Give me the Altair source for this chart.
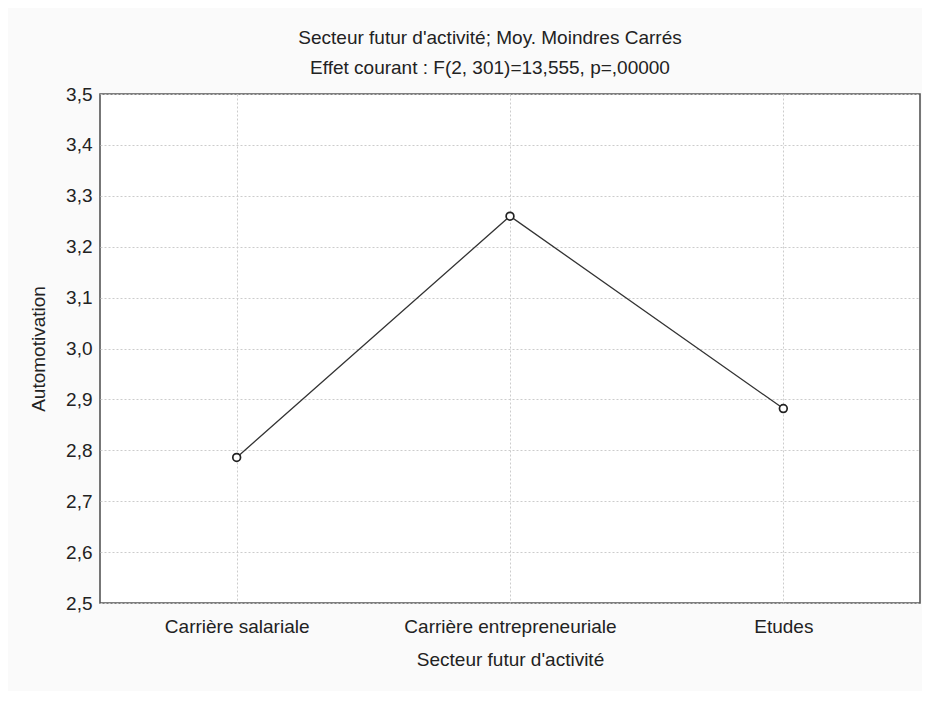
import altair as alt
import pandas as pd

categories = ["Carrière salariale", "Carrière entrepreneuriale", "Etudes"]
values = [2.786, 3.260, 2.882]
y_ticks = [2.5, 2.6, 2.7, 2.8, 2.9, 3.0, 3.1, 3.2, 3.3, 3.4, 3.5]

title_lines = ["Secteur futur d'activité; Moy. Moindres Carrés",
               "Effet courant : F(2, 301)=13,555, p=,00000"]
x_title = "Secteur futur d'activité"
y_title = "Automotivation"

df = pd.DataFrame({"cat": categories, "val": values})

FONT = "Liberation Sans"

x_enc = alt.X("cat:N", sort=categories, title=x_title,
              scale=alt.Scale(padding=0.5),
              axis=alt.Axis(labelAngle=0, labelFontSize=19, titleFontSize=19,
                            labelFont=FONT, titleFont=FONT, titleFontWeight="normal",
                            labelColor="#222222", titleColor="#222222",
                            labelLimit=400,
                            tickSize=0, labelPadding=14, titlePadding=14,
                            domain=False, grid=True, gridColor="#cccccc",
                            gridDash=[2, 2], gridWidth=1))
y_enc = alt.Y("val:Q", title=y_title,
              scale=alt.Scale(domain=[2.5, 3.5], nice=False, zero=False),
              axis=alt.Axis(values=y_ticks, labelFontSize=19, titleFontSize=19,
                            labelFont=FONT, titleFont=FONT, titleFontWeight="normal",
                            labelColor="#222222", titleColor="#222222",
                            labelExpr="replace(format(datum.value, '.1f'), '.', ',')",
                            tickSize=0, labelPadding=8, titlePadding=17,
                            domain=False, grid=True, gridColor="#cccccc",
                            gridDash=[2, 2], gridWidth=1))

base = alt.Chart(df).encode(x=x_enc, y=y_enc)
line = base.mark_line(color="#333333", strokeWidth=1.3)
pts = base.mark_point(shape="circle", filled=True, fill="white", stroke="#222222",
                      strokeWidth=1.7, size=60, opacity=1)

chart = (line + pts).properties(
    width=820, height=509,
    title=alt.TitleParams(text=title_lines, fontSize=19, font=FONT,
                          fontWeight="normal", color="#222222", lineHeight=30,
                          anchor="middle", dx=-20, offset=7),
    autosize=alt.AutoSizeParams(type="none"),
    padding={"left": 92, "top": 86, "right": 2, "bottom": 88},
    background="#fafafa",
).configure_view(fill="white", stroke="#555555", strokeWidth=1.6)

chart.save("out.html", embed_options={"renderer": "svg", "actions": False})
